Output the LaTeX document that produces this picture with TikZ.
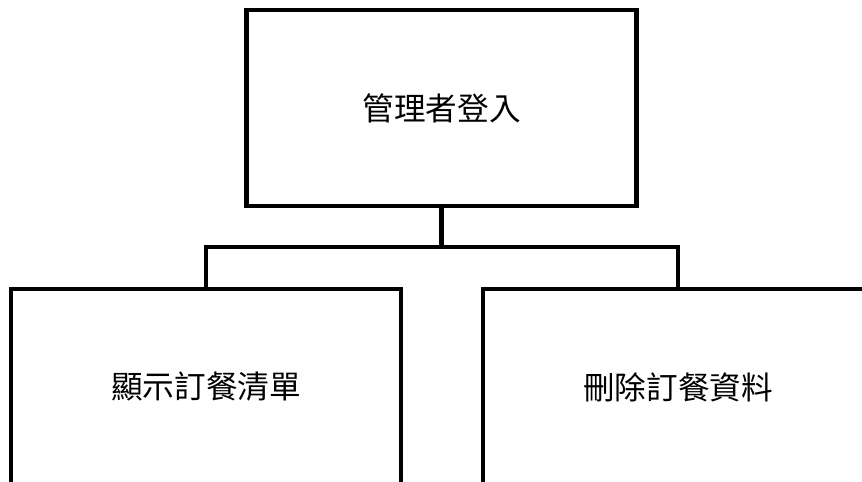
\documentclass[tikz,border=0pt]{standalone}
\usepackage{fontspec}
\newfontfamily\cjk{Noto Sans CJK TC}
\usetikzlibrary{positioning}

\begin{document}
\begin{tikzpicture}[line width=4.2pt,
  menubox/.style={draw,minimum width=11.7cm,minimum height=5.88cm,
    font=\cjk\fontsize{27}{32}\selectfont}]
\useasboundingbox(0,0)rectangle(25.86,-14.46);
\clip(0,0)rectangle(25.86,-14.46);
\node[menubox](login)at(13.25,-3.24){管理者登入};
\node[menubox](show)at(6.18,-11.61){顯示訂餐清單};
\node[menubox](del)at(20.34,-11.61){刪除訂餐資料};
\coordinate(bus)at(13.25,-7.41);
\draw(login.south)--(bus);
\draw(show.north)|-(bus)-|(del.north);
\end{tikzpicture}
\end{document}
